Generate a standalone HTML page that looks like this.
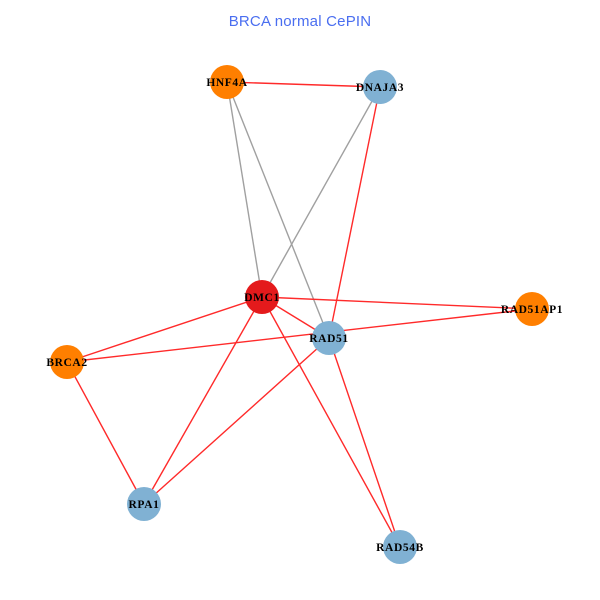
<!DOCTYPE html>
<html><head><meta charset="utf-8"><style>
html,body{margin:0;padding:0;background:#fff;}
svg{display:block;}
.l{font-family:"Liberation Serif",serif;font-weight:bold;font-size:11.5px;letter-spacing:0.6px;fill:#000;text-anchor:middle;}
</style></head><body>
<svg width="600" height="600" viewBox="0 0 600 600" xmlns="http://www.w3.org/2000/svg">
<rect width="600" height="600" fill="#fff"/>
<text x="300" y="26" font-family="Liberation Sans, sans-serif" font-size="15" letter-spacing="0.2" fill="#4a6ef0" text-anchor="middle">BRCA normal CePIN</text>
<g stroke="#a0a0a0" stroke-width="1.4" fill="none">
<line x1="227" y1="82" x2="262" y2="297"/>
<line x1="227" y1="82" x2="329" y2="338"/>
<line x1="380" y1="87" x2="262" y2="297"/>
</g>
<g stroke="#ff2a2a" stroke-width="1.4" fill="none">
<line x1="227" y1="82" x2="380" y2="87"/>
<line x1="380" y1="87" x2="329" y2="338"/>
<line x1="262" y1="297" x2="532" y2="309"/>
<line x1="262" y1="297" x2="329" y2="338"/>
<line x1="262" y1="297" x2="67" y2="362"/>
<line x1="262" y1="297" x2="144" y2="504"/>
<line x1="262" y1="297" x2="400" y2="547"/>
<line x1="67" y1="362" x2="532" y2="309"/>
<line x1="329" y1="338" x2="144" y2="504"/>
<line x1="329" y1="338" x2="400" y2="547"/>
<line x1="67" y1="362" x2="144" y2="504"/>
</g>
<g>
<circle cx="227" cy="82" r="17" fill="#ff7f00"/>
<circle cx="380" cy="87" r="17" fill="#80b1d3"/>
<circle cx="262" cy="297" r="17" fill="#e41a1c"/>
<circle cx="532" cy="309" r="17" fill="#ff7f00"/>
<circle cx="329" cy="338" r="17" fill="#80b1d3"/>
<circle cx="67" cy="362" r="17" fill="#ff7f00"/>
<circle cx="144" cy="504" r="17" fill="#80b1d3"/>
<circle cx="400" cy="547" r="17" fill="#80b1d3"/>
</g>
<text class="l" x="227" y="86">HNF4A</text>
<text class="l" x="380" y="91">DNAJA3</text>
<text class="l" x="262" y="301">DMC1</text>
<text class="l" x="532" y="313">RAD51AP1</text>
<text class="l" x="329" y="342">RAD51</text>
<text class="l" x="67" y="366">BRCA2</text>
<text class="l" x="144" y="508">RPA1</text>
<text class="l" x="400" y="551">RAD54B</text>
</svg>
</body></html>
